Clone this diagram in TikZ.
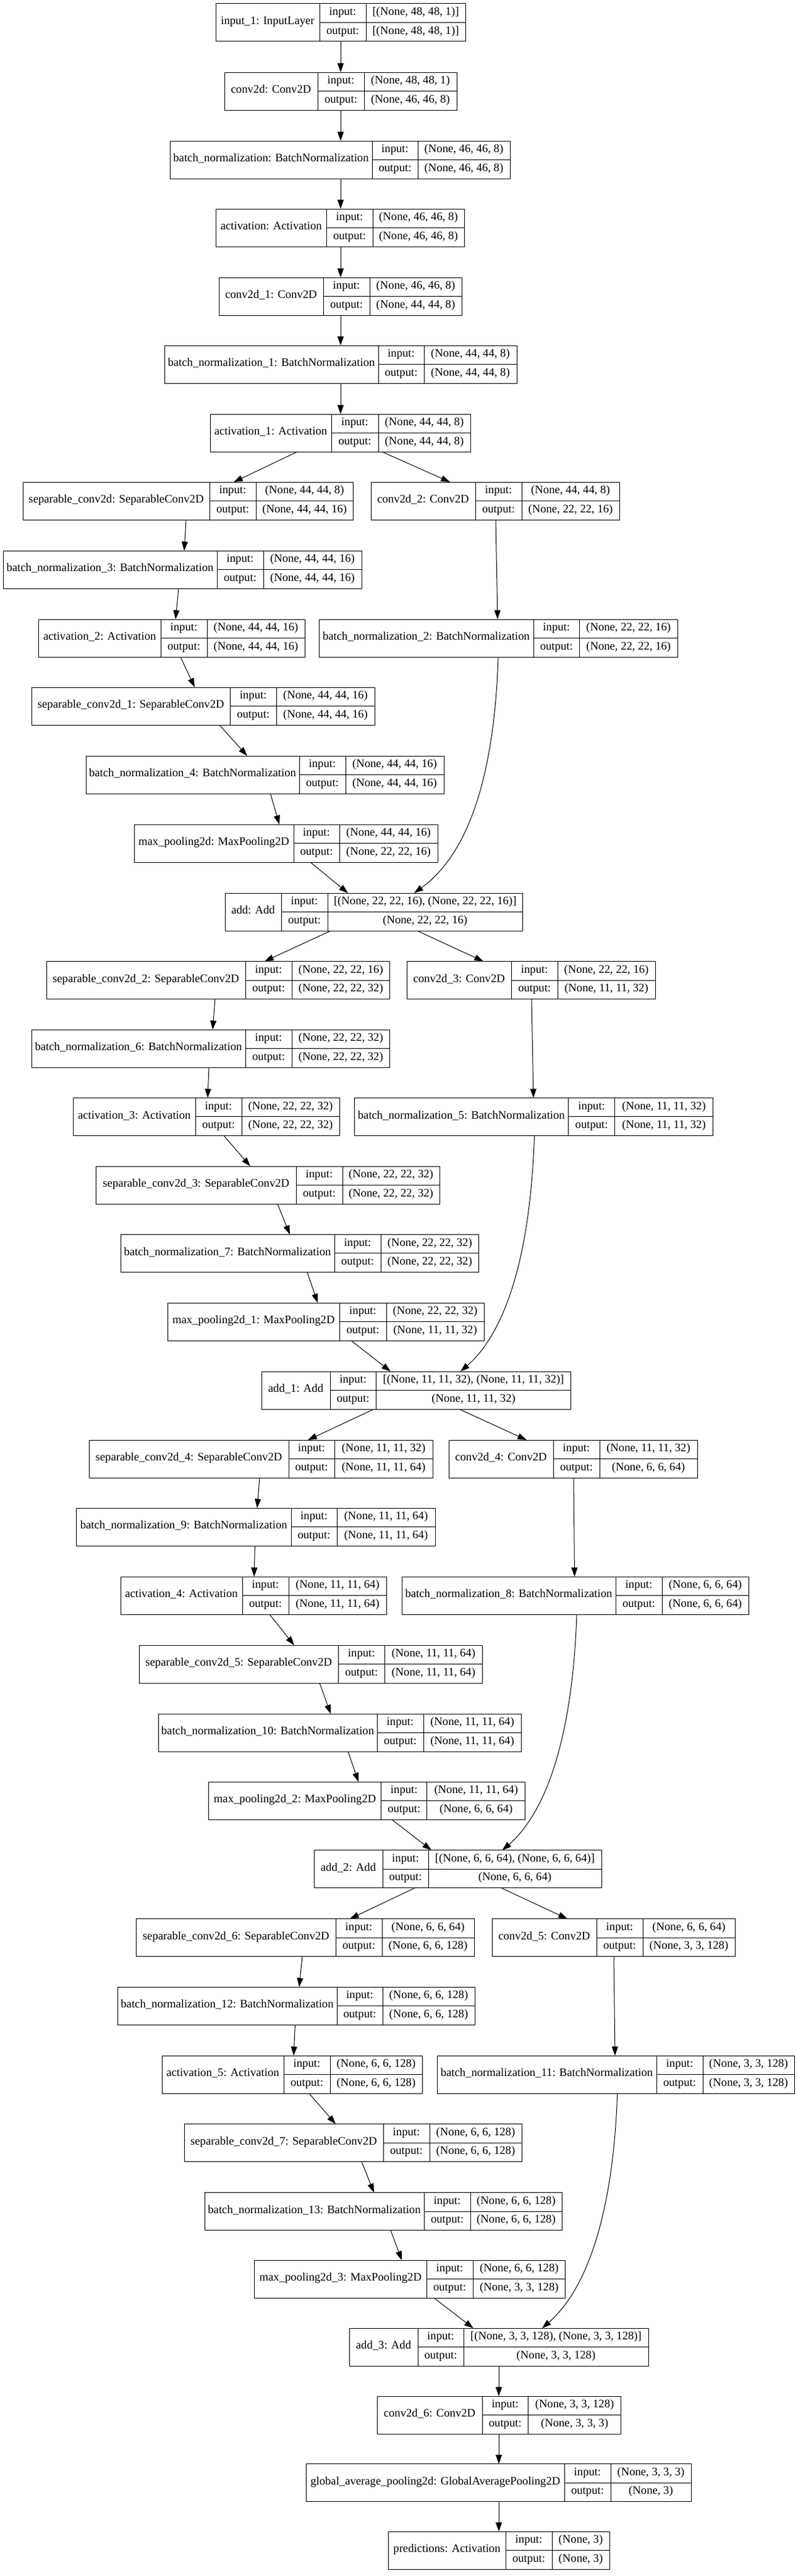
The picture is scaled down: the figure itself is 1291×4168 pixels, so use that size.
\documentclass[tikz,border=0pt]{standalone}
\usepackage{fontspec}
\setmainfont{Liberation Serif}
\usetikzlibrary{arrows.meta}

\tikzset{
  layerbox/.style={draw, line width=0.75pt, rectangle, anchor=north west,
    inner sep=0pt, outer sep=0pt, minimum height=45.75pt},
  cellline/.style={line width=0.75pt},
  celltext/.style={inner sep=0pt, text height=0.7em, text depth=0.2em,
    font=\fontsize{14}{16}\selectfont},
  link/.style={line width=0.75pt, -{Triangle[length=11pt,width=7.5pt]}}
}

% #1 name, #2 left, #3 first split, #4 second split, #5 right, #6 top,
% #7 layer text, #8 input shape, #9 output shape
\newcommand{\layer}[9]{%
  \node[layerbox, minimum width={(#5-#2)*0.75pt}, at={(#2,#6)}] (#1) {};
  \draw[cellline] (#3,#6) -- ++(0,61) (#4,#6) -- ++(0,61)
                  (#3,#6+30.5) -- (#5,#6+30.5);
  \node[celltext] (#1-name) at ({(#2+#3)/2},#6+30.5) {#7};
  \node[celltext] (#1-in)   at ({(#3+#4)/2},#6+15.25) {input:};
  \node[celltext] (#1-out)  at ({(#3+#4)/2},#6+45.75) {output:};
  \node[celltext] (#1-ins)  at ({(#4+#5)/2},#6+15.25) {#8};
  \node[celltext] (#1-outs) at ({(#4+#5)/2},#6+45.75) {#9};
}

\begin{document}
\begin{tikzpicture}[x=0.75pt,y=-0.75pt]
  \fill[white] (0,0) rectangle (1291,4168);
  \useasboundingbox (0,0) rectangle (1291,4168);

  % stem
  \layer{inp}{349}{517}{592}{753}{6}{input\_1: InputLayer}{[(None, 48, 48, 1)]}{[(None, 48, 48, 1)]}
  \layer{conv}{363}{514}{589}{739}{117}{conv2d: Conv2D}{(None, 48, 48, 1)}{(None, 46, 46, 8)}
  \layer{bn}{275}{602}{676}{825}{228}{batch\_normalization: BatchNormalization}{(None, 46, 46, 8)}{(None, 46, 46, 8)}
  \layer{act}{349.5}{528}{603}{751}{338}{activation: Activation}{(None, 46, 46, 8)}{(None, 46, 46, 8)}
  \layer{conv_1}{354}{523}{598}{747}{449}{conv2d\_1: Conv2D}{(None, 46, 46, 8)}{(None, 44, 44, 8)}
  \layer{bn_1}{266}{612}{686}{836}{559}{batch\_normalization\_1: BatchNormalization}{(None, 44, 44, 8)}{(None, 44, 44, 8)}
  \layer{act_1}{340}{536}{612}{761}{670}{activation\_1: Activation}{(None, 44, 44, 8)}{(None, 44, 44, 8)}

  % block 1
  \layer{sep}{37}{339}{414}{571.5}{780}{separable\_conv2d: SeparableConv2D}{(None, 44, 44, 8)}{(None, 44, 44, 16)}
  \layer{conv_2}{600}{769}{844}{1002}{780}{conv2d\_2: Conv2D}{(None, 44, 44, 8)}{(None, 22, 22, 16)}
  \layer{bn_3}{5}{351}{426}{585}{891}{batch\_normalization\_3: BatchNormalization}{(None, 44, 44, 16)}{(None, 44, 44, 16)}
  \layer{act_2}{62.5}{260}{335}{493}{1002}{activation\_2: Activation}{(None, 44, 44, 16)}{(None, 44, 44, 16)}
  \layer{bn_2}{516}{863}{937.5}{1096}{1002}{batch\_normalization\_2: BatchNormalization}{(None, 22, 22, 16)}{(None, 22, 22, 16)}
  \layer{sep_1}{51}{372.5}{447}{606}{1112}{separable\_conv2d\_1: SeparableConv2D}{(None, 44, 44, 16)}{(None, 44, 44, 16)}
  \layer{bn_4}{139}{484}{559}{718}{1223}{batch\_normalization\_4: BatchNormalization}{(None, 44, 44, 16)}{(None, 44, 44, 16)}
  \layer{mp}{217}{475}{549}{708}{1334}{max\_pooling2d: MaxPooling2D}{(None, 44, 44, 16)}{(None, 22, 22, 16)}
  \layer{add}{364}{455}{530}{845.5}{1445}{add: Add}{[(None, 22, 22, 16), (None, 22, 22, 16)]}{(None, 22, 22, 16)}

  % block 2
  \layer{sep_2}{75}{397}{472}{630.6}{1555.5}{separable\_conv2d\_2: SeparableConv2D}{(None, 22, 22, 16)}{(None, 22, 22, 32)}
  \layer{conv_3}{658}{827.4}{902}{1060}{1555.5}{conv2d\_3: Conv2D}{(None, 22, 22, 16)}{(None, 11, 11, 32)}
  \layer{bn_6}{51}{397}{472}{630.6}{1666}{batch\_normalization\_6: BatchNormalization}{(None, 22, 22, 32)}{(None, 22, 22, 32)}
  \layer{act_3}{118.6}{316}{391}{549}{1776.4}{activation\_3: Activation}{(None, 22, 22, 32)}{(None, 22, 22, 32)}
  \layer{bn_5}{573}{919.6}{994.6}{1153.5}{1776.4}{batch\_normalization\_5: BatchNormalization}{(None, 11, 11, 32)}{(None, 11, 11, 32)}
  \layer{sep_3}{155.6}{479}{554}{711}{1887}{separable\_conv2d\_3: SeparableConv2D}{(None, 22, 22, 32)}{(None, 22, 22, 32)}
  \layer{bn_7}{195}{541}{616}{774.7}{1997.4}{batch\_normalization\_7: BatchNormalization}{(None, 22, 22, 32)}{(None, 22, 22, 32)}
  \layer{mp_1}{271.7}{549}{625}{783}{2108}{max\_pooling2d\_1: MaxPooling2D}{(None, 22, 22, 32)}{(None, 11, 11, 32)}
  \layer{add_1}{423}{534}{608.4}{923.8}{2219}{add\_1: Add}{[(None, 11, 11, 32), (None, 11, 11, 32)]}{(None, 11, 11, 32)}

  % block 3
  \layer{sep_4}{144}{467}{541}{700}{2330}{separable\_conv2d\_4: SeparableConv2D}{(None, 11, 11, 32)}{(None, 11, 11, 64)}
  \layer{conv_4}{726}{895}{970}{1128}{2330}{conv2d\_4: Conv2D}{(None, 11, 11, 32)}{(None, 6, 6, 64)}
  \layer{bn_9}{123.5}{471}{545}{704}{2440}{batch\_normalization\_9: BatchNormalization}{(None, 11, 11, 64)}{(None, 11, 11, 64)}
  \layer{act_4}{195}{392}{467}{625}{2551}{activation\_4: Activation}{(None, 11, 11, 64)}{(None, 11, 11, 64)}
  \layer{bn_8}{650}{996}{1071}{1211}{2551}{batch\_normalization\_8: BatchNormalization}{(None, 6, 6, 64)}{(None, 6, 6, 64)}
  \layer{sep_5}{225}{547.5}{622}{780.5}{2662}{separable\_conv2d\_5: SeparableConv2D}{(None, 11, 11, 64)}{(None, 11, 11, 64)}
  \layer{bn_10}{256}{610}{685}{843}{2773}{batch\_normalization\_10: BatchNormalization}{(None, 11, 11, 64)}{(None, 11, 11, 64)}
  \layer{mp_2}{337.6}{616.7}{690.8}{849.7}{2883}{max\_pooling2d\_2: MaxPooling2D}{(None, 11, 11, 64)}{(None, 6, 6, 64)}
  \layer{add_2}{508}{619}{693}{973}{2993.7}{add\_2: Add}{[(None, 6, 6, 64), (None, 6, 6, 64)]}{(None, 6, 6, 64)}

  % block 4
  \layer{sep_6}{220.6}{543}{618}{767}{3104.7}{separable\_conv2d\_6: SeparableConv2D}{(None, 6, 6, 64)}{(None, 6, 6, 128)}
  \layer{conv_5}{796}{965}{1040}{1189}{3104.7}{conv2d\_5: Conv2D}{(None, 6, 6, 64)}{(None, 3, 3, 128)}
  \layer{bn_12}{190}{545}{619}{768}{3215}{batch\_normalization\_12: BatchNormalization}{(None, 6, 6, 128)}{(None, 6, 6, 128)}
  \layer{act_5}{262}{459}{534}{683}{3326}{activation\_5: Activation}{(None, 6, 6, 128)}{(None, 6, 6, 128)}
  \layer{bn_11}{707}{1062}{1137}{1285}{3326}{batch\_normalization\_11: BatchNormalization}{(None, 3, 3, 128)}{(None, 3, 3, 128)}
  \layer{sep_7}{298}{620}{695}{844}{3436.7}{separable\_conv2d\_7: SeparableConv2D}{(None, 6, 6, 128)}{(None, 6, 6, 128)}
  \layer{bn_13}{331}{686}{761}{909}{3547.6}{batch\_normalization\_13: BatchNormalization}{(None, 6, 6, 128)}{(None, 6, 6, 128)}
  \layer{mp_3}{411.7}{690}{765}{914.7}{3657}{max\_pooling2d\_3: MaxPooling2D}{(None, 6, 6, 128)}{(None, 3, 3, 128)}
  \layer{add_3}{565}{676}{750}{1049}{3767}{add\_3: Add}{[(None, 3, 3, 128), (None, 3, 3, 128)]}{(None, 3, 3, 128)}

  % head
  \layer{conv_6}{610}{780}{854.6}{1004.5}{3877}{conv2d\_6: Conv2D}{(None, 3, 3, 128)}{(None, 3, 3, 3)}
  \layer{gap}{495.6}{913}{988}{1118}{3986.6}{global\_average\_pooling2d: GlobalAveragePooling2D}{(None, 3, 3, 3)}{(None, 3)}
  \layer{pred}{628}{818}{893}{986}{4096}{predictions: Activation}{(None, 3)}{(None, 3)}

  % connectors
  \draw[link] (551,0 |- inp.south)   -- (551,0 |- conv.north);
  \draw[link] (551,0 |- conv.south)  -- (551,0 |- bn.north);
  \draw[link] (551,0 |- bn.south)    -- (551,0 |- act.north);
  \draw[link] (551,0 |- act.south)   -- (551,0 |- conv_1.north);
  \draw[link] (551,0 |- conv_1.south) -- (551,0 |- bn_1.north);
  \draw[link] (551,0 |- bn_1.south)  -- (551,0 |- act_1.north);

  \draw[link] (481,0 |- act_1.south) -- (378,0 |- sep.north);
  \draw[link] (618,0 |- act_1.south) -- (728,0 |- conv_2.north);
  \draw[link] (301,0 |- sep.south)   -- (298,0 |- bn_3.north);
  \draw[link] (802,0 |- conv_2.south) -- (805,0 |- bn_2.north);
  \draw[link] (289,0 |- bn_3.south)  -- (284,0 |- act_2.north);
  \draw[link] (292,0 |- act_2.south) -- (315,0 |- sep_1.north);
  \draw[link] (355,0 |- sep_1.south) -- (400,0 |- bn_4.north);
  \draw[link] (437.5,0 |- bn_4.south) -- (452,0 |- mp.north);
  \draw[link] (502,0 |- mp.south)    -- (563,0 |- add.north);
  \draw[link] (806,0 |- bn_2.south) .. controls +(-6,187) and +(90,-65) .. (670,0 |- add.north);

  \draw[link] (535,0 |- add.south)   -- (428,0 |- sep_2.north);
  \draw[link] (675,0 |- add.south)   -- (782,0 |- conv_3.north);
  \draw[link] (348,0 |- sep_2.south) -- (344,0 |- bn_6.north);
  \draw[link] (860,0 |- conv_3.south) -- (863,0 |- bn_5.north);
  \draw[link] (338,0 |- bn_6.south)  -- (336,0 |- act_3.north);
  \draw[link] (362,0 |- act_3.south) -- (405,0 |- sep_3.north);
  \draw[link] (449,0 |- sep_3.south) -- (469,0 |- bn_7.north);
  \draw[link] (497,0 |- bn_7.south)  -- (514,0 |- mp_1.north);
  \draw[link] (568,0 |- mp_1.south)  -- (632,0 |- add_1.north);
  \draw[link] (864.5,0 |- bn_5.south) .. controls +(-6,187) and +(75,-65) .. (745,0 |- add_1.north);

  \draw[link] (605,0 |- add_1.south) -- (498,0 |- sep_4.north);
  \draw[link] (743,0 |- add_1.south) -- (852,0 |- conv_4.north);
  \draw[link] (420,0 |- sep_4.south) -- (416,0 |- bn_9.north);
  \draw[link] (928,0 |- conv_4.south) -- (929.5,0 |- bn_8.north);
  \draw[link] (412.5,0 |- bn_9.south) -- (411,0 |- act_4.north);
  \draw[link] (436,0 |- act_4.south) -- (476,0 |- sep_5.north);
  \draw[link] (517,0 |- sep_5.south) -- (535,0 |- bn_10.north);
  \draw[link] (563,0 |- bn_10.south) -- (580,0 |- mp_2.north);
  \draw[link] (634,0 |- mp_2.south)  -- (698,0 |- add_2.north);
  \draw[link] (933,0 |- bn_8.south) .. controls +(-6,187) and +(75,-65) .. (812.6,0 |- add_2.north);

  \draw[link] (671,0 |- add_2.south) -- (566,0 |- sep_6.north);
  \draw[link] (811,0 |- add_2.south) -- (918,0 |- conv_5.north);
  \draw[link] (489,0 |- sep_6.south) -- (484,0 |- bn_12.north);
  \draw[link] (993,0 |- conv_5.south) -- (995,0 |- bn_11.north);
  \draw[link] (477.5,0 |- bn_12.south) -- (475,0 |- act_5.north);
  \draw[link] (500,0 |- act_5.south) -- (543,0 |- sep_7.north);
  \draw[link] (585,0 |- sep_7.south) -- (605,0 |- bn_13.north);
  \draw[link] (632,0 |- bn_13.south) -- (650,0 |- mp_3.north);
  \draw[link] (702,0 |- mp_3.south)  -- (765.7,0 |- add_3.north);
  \draw[link] (998.7,0 |- bn_11.south) .. controls +(-6,187) and +(75,-65) .. (877,0 |- add_3.north);

  \draw[link] (807,0 |- add_3.south)  -- (807,0 |- conv_6.north);
  \draw[link] (807,0 |- conv_6.south) -- (807,0 |- gap.north);
  \draw[link] (807,0 |- gap.south)    -- (807,0 |- pred.north);
\end{tikzpicture}
\end{document}
